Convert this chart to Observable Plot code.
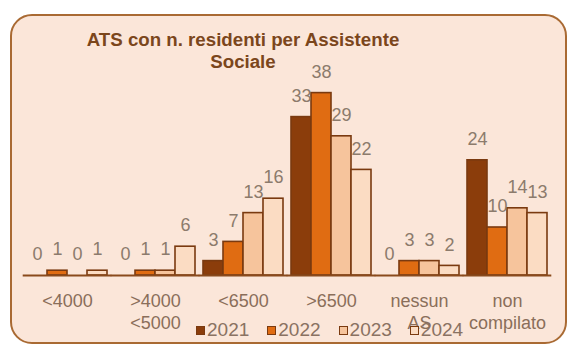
<!DOCTYPE html>
<html><head><meta charset="utf-8">
<script src="https://cdn.jsdelivr.net/npm/d3@7"></script>
<script src="https://cdn.jsdelivr.net/npm/@observablehq/plot@0.6"></script>
<style>
body{margin:0;background:#fff;}
#wrap{position:relative;width:571px;height:347px;overflow:hidden;font-family:"Liberation Sans",Arial,sans-serif;}
#frame{position:absolute;left:10px;top:14px;width:557px;height:330px;box-sizing:border-box;border:2px solid #a96a33;border-radius:22px;background:#fbe6d9;}
#title{position:absolute;left:0;width:486px;top:29px;text-align:center;font-weight:bold;font-size:18.7px;line-height:22px;color:#7b461c;}
#chart{position:absolute;left:0;top:0;}
#legend{position:absolute;left:196px;top:320px;display:flex;gap:18px;font-size:19px;line-height:20px;color:#8a7262;}
#legend .it{display:flex;align-items:center;gap:2px;}
#legend .sw{width:7px;height:7px;border:1.5px solid #7a3a10;}
</style>
</head><body>
<div id="wrap">
  <div id="frame"></div>
  <div id="title">ATS con n. residenti per Assistente<br>Sociale</div>
  <div id="chart"></div>
  <div id="legend"></div>
</div>
<script>
const categories = ["<4000", ">4000\n<5000", "<6500", ">6500", "nessun\nAS", "non\ncompilato"];
const years = ["2021", "2022", "2023", "2024"];
const v2021 = [0, 0, 3, 33, 0, 24];
const v2022 = [1, 1, 7, 38, 3, 10];
const v2023 = [0, 1, 13, 29, 3, 14];
const v2024 = [1, 6, 16, 22, 2, 13];
const colors = ["#8b3d0b", "#e06c12", "#f6c49c", "#fbdcc3"];

const series = [v2021, v2022, v2023, v2024];
const data = categories.flatMap((cat, i) => years.map((year, j) => ({cat, year, value: series[j][i]})));

const chart = Plot.plot({
  width: 571, height: 347,
  marginLeft: 22, marginRight: 19, marginTop: 83, marginBottom: 72,
  style: {background: "transparent", fontFamily: "Liberation Sans, Arial, sans-serif"},
  fx: {domain: categories, paddingInner: 0.095, paddingOuter: 0.047, label: null, axis: null},
  x: {domain: years, padding: 0, axis: null},
  y: {domain: [0, 40], axis: null},
  color: {domain: years, range: colors},
  marks: [
    Plot.barY(data, {fx: "cat", x: "year", y: "value", fill: "year", stroke: "#7a3a10", strokeWidth: 1.6}),
    Plot.ruleY([0], {stroke: "#8a4a1c", strokeWidth: 2, insetLeft: -4.3, insetRight: -4.3}),
    Plot.text(data, {fx: "cat", x: "year", y: "value", text: d => String(d.value), dy: -21, fill: "#8c7b6c", fontSize: 18}),
    Plot.axisFx({anchor: "bottom", tickSize: 0, tickPadding: 17, fontSize: 18, lineHeight: 1.17, fill: "#8a6e5a", label: null})
  ]
});
document.getElementById("chart").appendChild(chart);

const legend = document.getElementById("legend");
years.forEach((y, i) => {
  const it = document.createElement("div");
  it.className = "it";
  const sw = document.createElement("span");
  sw.className = "sw";
  sw.style.background = colors[i];
  const t = document.createElement("span");
  t.textContent = y;
  it.appendChild(sw); it.appendChild(t);
  legend.appendChild(it);
});
</script>
</body></html>
